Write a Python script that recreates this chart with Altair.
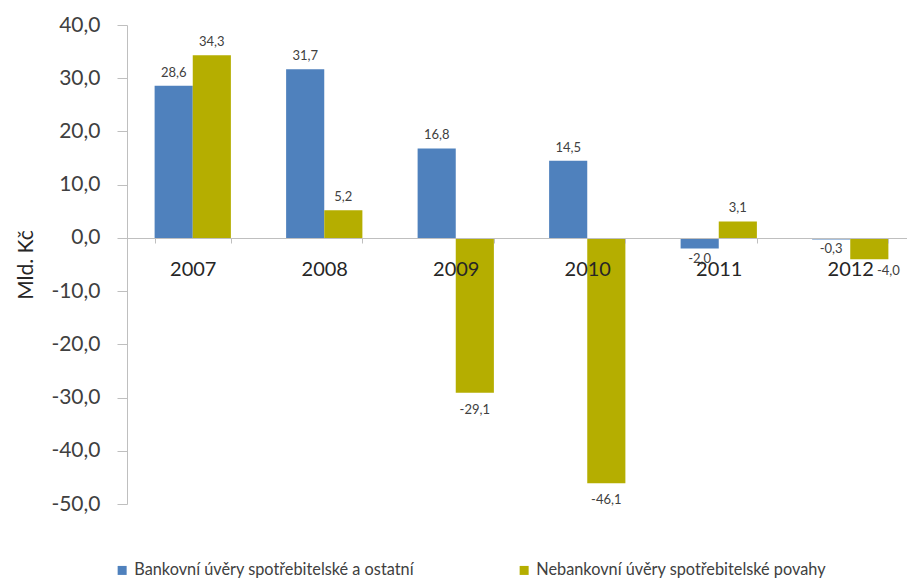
import altair as alt
import pandas as pd

years = ["2007", "2008", "2009", "2010", "2011", "2012"]
bank = [28.6, 31.7, 16.8, 14.5, -2.0, -0.3]
nonbank = [34.3, 5.2, -29.1, -46.1, 3.1, -4.0]
series = ["Bankovní úvěry spotřebitelské a ostatní", "Nebankovní úvěry spotřebitelské povahy"]
colors = ["#4f81bd", "#b5ae00"]

rows = []
for i, y in enumerate(years):
    for s, v in zip(series, [bank[i], nonbank[i]]):
        rows.append({"rok": y, "serie": s, "hodnota": v,
                     "popisek": f"{v:.1f}".replace(".", ",")})
df = pd.DataFrame(rows)

FONT = "Lato"

x = alt.X("rok:N", sort=years, title=None,
          scale=alt.Scale(paddingInner=0.42, paddingOuter=0.21, range=[0, 789]),
          axis=alt.Axis(offset=-266, tickBand="extent", labelAngle=0, zindex=1,
                        domainColor="#bfbfbf", tickColor="#bfbfbf", tickSize=5,
                        labelFontSize=20, labelColor="#262626", labelFont=FONT,
                        labelPadding=16))
xo = alt.XOffset("serie:N", sort=series)
y = alt.Y("hodnota:Q", title="Mld. Kč",
          scale=alt.Scale(domain=[-50, 40], nice=False, zero=False),
          axis=alt.Axis(values=list(range(-50, 41, 10)), grid=False,
                        labelExpr="replace(replace(format(datum.value, '.1f'), '.', ','), '\u2212', '-')",
                        labelFontSize=21, labelColor="#404040", labelFont=FONT,
                        domainColor="#bfbfbf", tickColor="#bfbfbf", tickSize=10,
                        labelPadding=17, titleFont=FONT, titleFontSize=21,
                        titleFontWeight="normal", titleColor="#262626",
                        titlePadding=14))

base = alt.Chart(df)

bars = base.mark_bar().encode(
    x=x, xOffset=xo, y=y,
    color=alt.Color("serie:N", sort=series,
                    scale=alt.Scale(domain=series, range=colors),
                    legend=alt.Legend(title=None, orient="none", direction="horizontal",
                                      legendX=-13, legendY=537, symbolType="square",
                                      symbolSize=81, symbolStrokeWidth=0,
                                      labelFont=FONT, labelFontSize=16.3,
                                      labelColor="#404040", labelLimit=500,
                                      columnPadding=102, symbolOffset=0,
                                      labelOffset=4)),
)

xl = alt.X("rok:N", sort=years)
lab_pos = base.transform_filter("datum.hodnota >= 0").mark_text(
    dy=-13, fontSize=13, color="#404040", font=FONT).encode(
    x=xl, xOffset=xo, y="hodnota:Q", text="popisek:N")
lab_neg = base.transform_filter("datum.hodnota < -5").mark_text(
    dy=17, fontSize=13, color="#404040", font=FONT).encode(
    x=xl, xOffset=xo, y="hodnota:Q", text="popisek:N")
lab_small = base.transform_filter(
    "datum.hodnota < 0 && datum.hodnota >= -5 && datum.rok != '2012' || datum.hodnota < 0 && datum.hodnota > -1"
).mark_text(dy=10, fontSize=13, color="#404040", font=FONT).encode(
    x=xl, xOffset=xo, y="hodnota:Q", text="popisek:N")
lab_side = base.transform_filter("datum.rok == '2012' && datum.hodnota <= -1").mark_text(
    dy=12, dx=19, fontSize=13, color="#404040", font=FONT).encode(
    x=xl, xOffset=xo, y="hodnota:Q", text="popisek:N")

chart = alt.layer(bars, lab_pos, lab_neg, lab_small, lab_side).properties(
    width=780, height=479,
    autosize=alt.AutoSizeParams(type="none"),
    padding={"left": 127, "top": 25, "right": 0, "bottom": 74},
).configure_view(stroke=None)

chart.save("out.html", embed_options={"renderer": "svg", "actions": False})
